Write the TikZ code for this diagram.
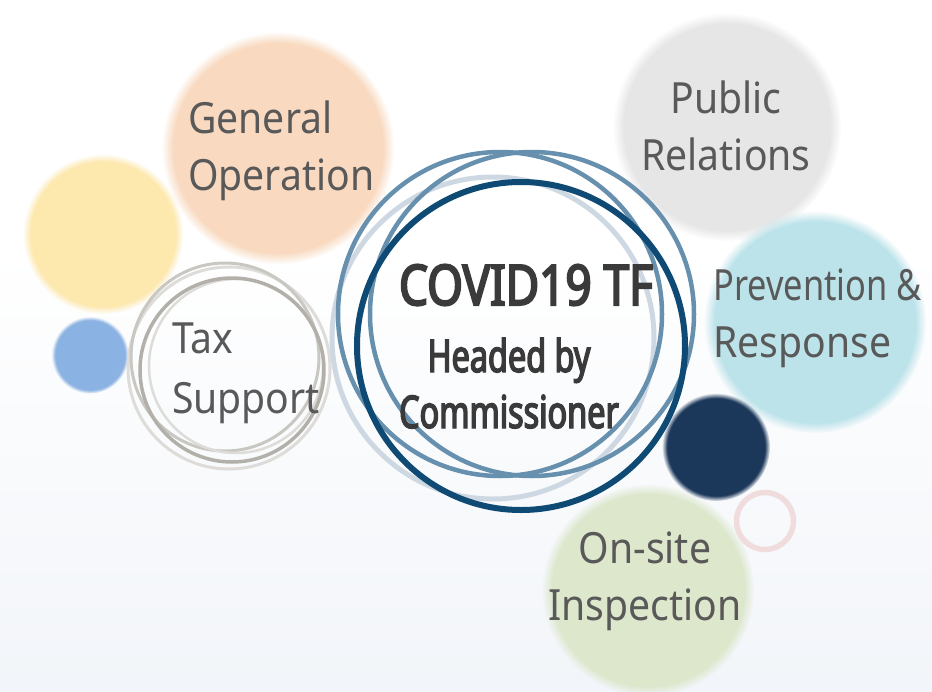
\documentclass[tikz,border=0pt]{standalone}
\usepackage{fontspec}
\setmainfont{Noto Sans}
\newfontfamily\lblfont[FakeStretch=0.91]{Noto Sans}
\newfontfamily\prvfont[FakeStretch=0.8]{Noto Sans}
\newfontfamily\hdfont[FakeStretch=0.72,FakeBold=3.2]{Noto Sans}
\newfontfamily\tffont[FakeStretch=0.82,FakeBold=3.6]{Noto Sans}
\usetikzlibrary{positioning,fadings}

\definecolor{peach}{HTML}{F9DAC0}
\definecolor{sand}{HTML}{FDE8AE}
\definecolor{sky}{HTML}{8AB2E2}
\definecolor{fog}{HTML}{E6E6E6}
\definecolor{aqua}{HTML}{BCE3EA}
\definecolor{navy}{HTML}{1B375A}
\definecolor{blush}{HTML}{F1DCDD}
\definecolor{sage}{HTML}{DCE7CC}
\definecolor{ringdark}{HTML}{0E4A74}
\definecolor{ringmid}{HTML}{6690AD}
\definecolor{ringpale}{HTML}{CDD8E3}
\definecolor{ash1}{HTML}{B3B0AA}
\definecolor{ash2}{HTML}{C9C7C2}
\definecolor{ash3}{HTML}{DEDCD8}
\definecolor{txtgray}{HTML}{595959}
\definecolor{hdgray}{HTML}{3A3A3A}
\definecolor{bgblue}{HTML}{F2F5F9}

\tikzset{
  blob/.style={fill=#1, path fading=circle with fuzzy edge 10 percent},
  ring/.style={draw=#1, line width=4.5pt},
  lbl/.style={text=txtgray, inner sep=0pt, font=\lblfont\fontsize{43}{57}\selectfont},
  hd/.style={text=hdgray, inner sep=0pt, align=center, font=\hdfont\fontsize{45}{56}\selectfont}
}

\begin{document}
\begin{tikzpicture}[x=1pt,y=-1pt]
      \useasboundingbox (0,0) rectangle (932,691);
      \fill[white] (0,0) rectangle (932,250);
      \shade[top color=white, bottom color=bgblue] (0,250) rectangle (932,691);

      \path[blob=peach] (278,148) circle[radius=116pt];
      \path[blob=sand] (103,234) circle[radius=80pt];
      \path[blob=sky] (90,355) circle[radius=38.5pt];
      \path[blob=fog] (727,127) circle[radius=114pt];
      \path[blob=aqua] (815,322) circle[radius=111pt];
      \path[blob=navy] (716,447) circle[radius=54pt];
      \path[blob=sage] (648,590) circle[radius=106pt];
      \draw[draw=blush, line width=5.5pt] (765,521) circle[radius=28.5pt];

      \draw[ring=ash3, line width=3pt] (229,368) circle[radius=101pt];
      \draw[ring=ash2, line width=3pt] (225,357) circle[radius=94pt];
      \draw[ring=ash3, line width=2.5pt] (236,366) circle[radius=87pt];
      \draw[ring=ash1, line width=3.5pt] (232,370) circle[radius=92pt];

      \draw[ring=ringpale, line width=5pt] (493,338) circle[radius=161pt];
      \draw[ring=ringmid] (500,314) circle[radius=162pt];
      \draw[ring=ringmid] (532,314) circle[radius=162pt];
      \draw[ring=ringdark, line width=6pt] (521,346) circle[radius=164pt];

      \node[lbl, align=left, anchor=base west] (genop) at (188,190) {General\\Operation};
      \node[lbl, align=center, anchor=base] (pubrel) at (726,170) {Public\\Relations};
      \node[lbl, align=left, anchor=base west] (prevent) at (713,357) {{\prvfont Prevention \&}\\Response};
      \node[lbl, align=left, anchor=base west] (taxsup) at (172,413) {Tax\\[3pt]Support};
      \node[lbl, align=center, anchor=base] (onsite) at (645,620) {On-site\\Inspection};

      \node[hd, anchor=base, font=\tffont\fontsize{56}{60}\selectfont] (tf) at (526,305) {COVID19 TF};
      \node[hd, anchor=base] (head) at (509,428) {Headed by\\Commissioner};
\end{tikzpicture}
\end{document}
